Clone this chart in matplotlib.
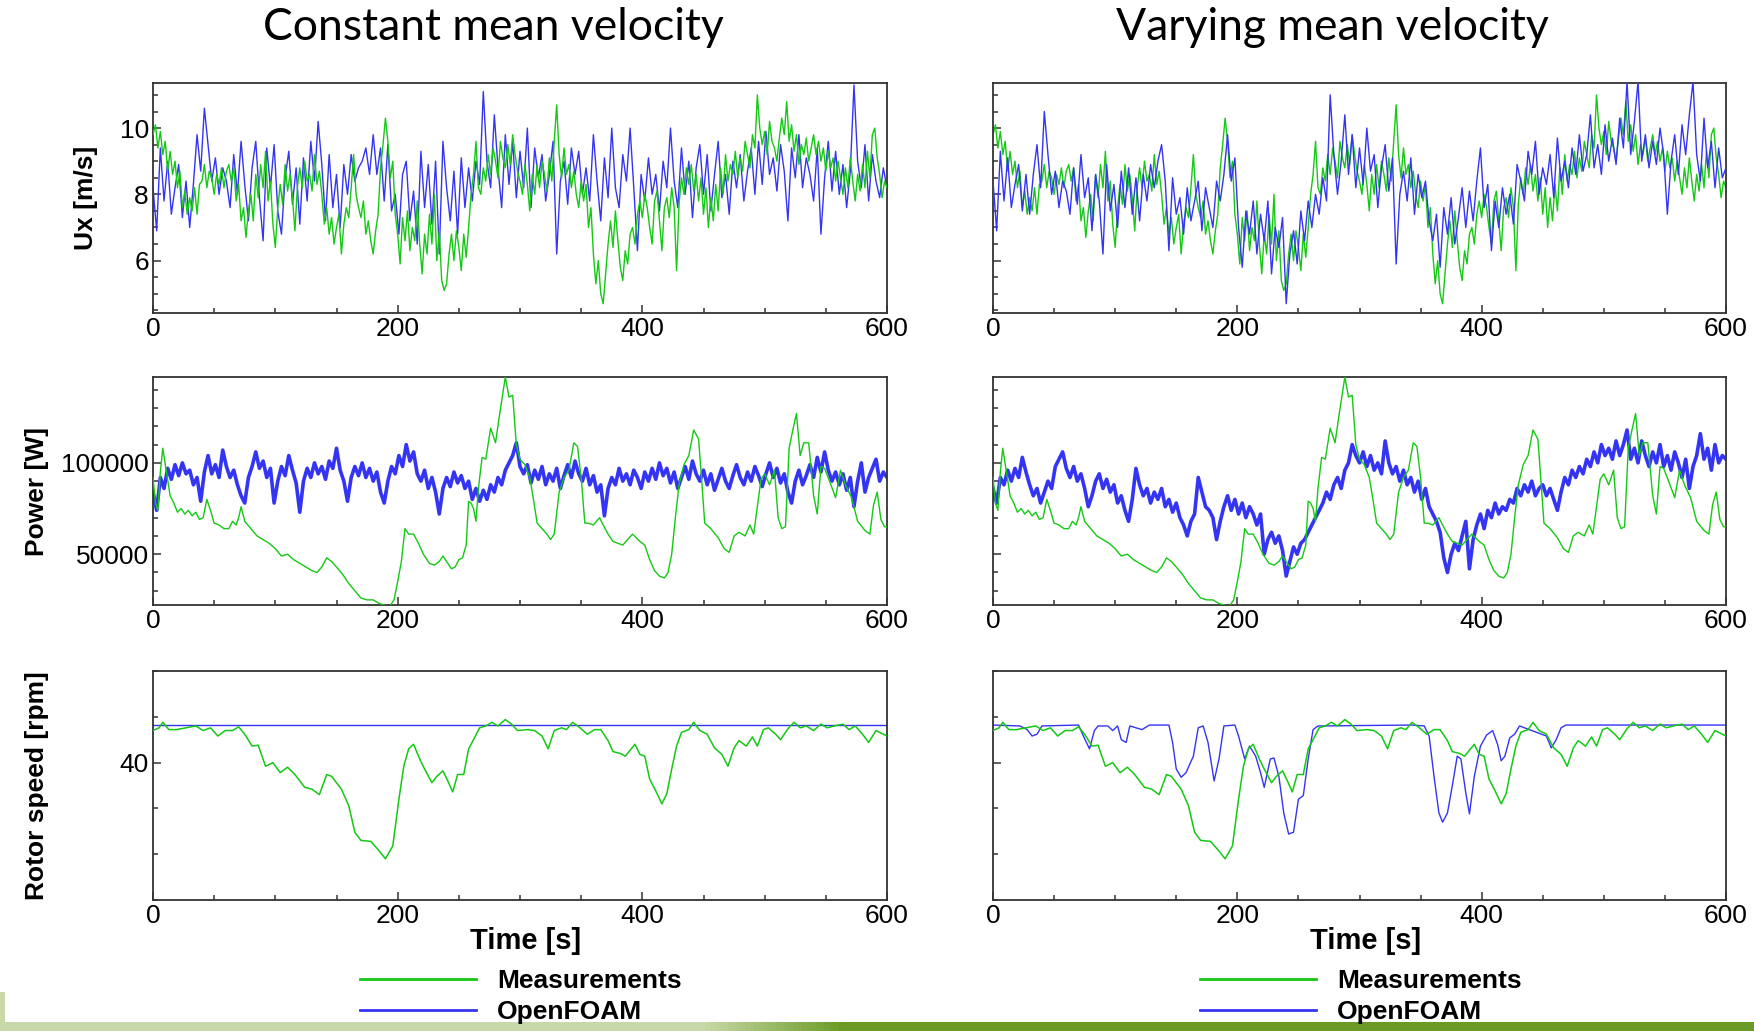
import numpy as np
import matplotlib.pyplot as plt
from matplotlib.ticker import MultipleLocator

# ---- data ----
t_ux_meas = np.arange(0, 601, 2)
ux_meas = [
    9.8, 10.1, 9.4, 9.9, 9.2, 9.6, 8.7, 9.3, 8.6, 9.0,
    8.2, 8.7, 7.6, 8.1, 7.4, 7.9, 7.5, 8.2, 7.4, 8.3,
    8.4, 8.9, 8.2, 8.7, 8.5, 8.0, 8.6, 8.3, 8.8, 8.2,
    8.7, 8.9, 8.4, 8.8, 7.8, 8.3, 7.2, 7.6, 6.7, 7.5,
    8.0, 7.2, 8.6, 7.9, 8.9, 8.2, 9.3, 7.8, 8.4, 7.1,
    6.4, 7.6, 8.3, 7.7, 8.9, 8.1, 8.6, 7.9, 6.9, 8.2,
    8.8, 8.2, 9.0, 8.4, 8.6, 8.1, 9.2, 8.3, 8.7, 8.0,
    7.1, 7.6, 6.8, 7.3, 6.5, 7.0, 7.4, 6.2, 7.1, 7.6,
    7.3, 8.2, 9.2, 8.0, 7.6, 7.3, 7.8, 6.8, 7.2, 6.6,
    6.2, 6.9, 7.4, 8.8, 9.5, 10.3, 9.6, 8.5, 9.0, 7.4,
    6.8, 5.9, 7.3, 6.6, 7.5, 6.3, 7.0, 6.6, 7.8, 6.5,
    5.6, 6.8, 6.2, 7.4, 6.5, 8.0, 6.0, 6.9, 5.4, 5.1,
    5.3, 6.2, 6.8, 6.0, 6.9, 6.4, 5.7, 6.8, 6.1, 7.0,
    8.0, 8.6, 9.6, 8.2, 8.0, 8.8, 8.4, 9.2, 8.6, 9.4,
    9.0, 8.5, 9.6, 9.1, 8.8, 9.5, 8.9, 9.8, 9.2, 8.7,
    8.4, 8.0, 8.9, 8.3, 7.5, 8.6, 8.0, 8.9, 8.2, 9.0,
    8.6, 8.1, 9.1, 8.4, 9.6, 10.7, 9.2, 8.5, 9.4, 8.6,
    8.9, 8.2, 8.7, 8.0, 7.6, 8.4, 7.8, 8.3, 7.0, 7.6,
    6.2, 5.3, 6.0, 5.0, 4.7, 5.6, 6.5, 7.2, 6.4, 7.5,
    6.6, 5.8, 5.4, 6.3, 5.9, 6.8, 7.0, 6.5, 7.4, 7.8,
    7.3, 8.0, 7.6, 7.0, 6.5, 7.8, 8.1, 7.2, 6.3, 7.6,
    7.9, 7.3, 8.2, 7.6, 5.7, 7.7, 8.5, 8.0, 8.8, 8.3,
    8.9, 8.1, 8.6, 7.8, 8.5, 7.4, 8.2, 7.0, 7.9, 7.2,
    8.3, 7.5, 8.8, 8.0, 9.2, 8.4, 8.9, 8.6, 9.3, 8.5,
    9.1, 8.7, 9.6, 9.2, 8.8, 9.8, 9.4, 11.0, 10.0, 9.5,
    9.9, 9.2, 10.2, 9.6, 9.4, 9.0, 9.7, 10.3, 9.8, 10.8,
    9.6, 10.1, 9.3, 9.8, 8.9, 9.5, 9.2, 9.7, 9.0, 9.4,
    9.8, 9.2, 9.6, 9.0, 9.4, 8.7, 9.3, 8.8, 9.1, 8.4,
    9.0, 8.5, 8.0, 8.8, 8.2, 9.1, 8.4, 7.8, 8.6, 8.1,
    8.9, 8.2, 9.3, 8.5, 9.8, 10.0, 9.1, 8.6, 7.9, 8.4,
    8.2,
]

t_sim = np.arange(0, 601, 3)
ux_sim_const = [
    8.2, 6.9, 9.4, 7.8, 9.0, 7.4, 8.2, 8.9, 7.3, 8.4,
    7.0, 8.3, 9.8, 8.7, 10.6, 9.5, 8.4, 9.1, 8.0, 8.8,
    8.4, 7.6, 9.2, 8.0, 9.6, 8.3, 7.2, 8.8, 9.6, 7.9,
    6.6, 9.4, 8.2, 9.5, 7.5, 6.8, 8.5, 9.3, 7.7, 8.8,
    7.1, 9.1, 7.8, 9.6, 8.4, 10.2, 8.9, 7.2, 9.2, 7.6,
    8.6, 7.0, 8.9, 8.0, 9.2, 8.4, 8.8, 9.0, 9.4, 8.6,
    9.8, 8.6, 9.4, 7.8, 9.5, 7.5, 8.0, 6.8, 8.6, 9.0,
    7.2, 8.1, 6.5, 9.3, 7.6, 8.9, 7.1, 9.0, 6.2, 9.6,
    8.2, 7.2, 8.7, 6.8, 9.1, 7.6, 8.8, 7.8, 9.0, 8.3,
    11.1, 9.0, 8.2, 10.4, 8.8, 7.6, 9.8, 8.3, 9.6, 7.9,
    9.3, 8.2, 10.0, 7.6, 9.4, 8.5, 9.2, 7.8, 8.6, 9.6,
    6.2, 8.4, 9.0, 7.7, 9.4, 8.6, 9.3, 8.0, 8.8, 7.8,
    9.8, 8.4, 7.2, 9.1, 7.9, 10.0, 8.2, 7.6, 9.2, 8.4,
    10.0, 8.2, 6.3, 8.6, 7.8, 9.1, 8.0, 8.6, 7.5, 9.0,
    8.2, 10.0, 8.4, 7.6, 9.4, 8.0, 9.0, 7.3, 8.8, 9.5,
    8.0, 9.2, 7.5, 8.6, 9.6, 7.9, 8.6, 7.4, 9.0, 8.2,
    9.2, 7.8, 8.7, 9.4, 8.0, 9.6, 8.3, 9.9, 8.6, 9.1,
    8.1, 9.5, 8.7, 7.2, 9.4, 8.5, 9.8, 8.2, 9.1, 8.6,
    7.8, 9.4, 6.8, 8.5, 9.6, 8.1, 9.3, 8.0, 8.9, 7.6,
    8.7, 11.3, 9.0, 8.2, 9.5, 7.8, 9.2, 8.4, 7.9, 8.8,
    8.2,
]
ux_sim_vary = [
    8.4, 6.9, 9.3, 7.8, 9.1, 7.6, 8.3, 8.9, 7.5, 8.6,
    7.4, 8.6, 9.5, 8.2, 10.5, 9.2, 8.0, 8.7, 7.6, 8.4,
    8.1, 7.4, 8.8, 7.7, 9.2, 7.9, 8.5, 6.9, 8.6, 7.8,
    6.2, 8.9, 7.5, 8.3, 7.0, 8.7, 7.6, 8.8, 7.4, 8.5,
    7.2, 8.6, 7.8, 8.9, 8.2, 9.0, 9.5, 8.4, 6.3, 8.5,
    7.4, 7.9, 6.8, 8.2, 7.2, 7.8, 8.4, 6.9, 8.2, 7.6,
    7.0, 8.4, 7.8, 8.6, 9.8, 8.4, 9.1, 7.0, 5.8, 7.5,
    6.8, 7.8, 6.2, 7.4, 6.6, 7.8, 5.6, 7.0, 6.4, 7.3,
    4.7, 6.2, 6.9, 5.9, 7.5, 6.6, 7.8, 7.0, 8.0, 7.4,
    8.5, 7.8, 11.0, 9.2, 8.0, 9.0, 10.4, 8.6, 9.8, 8.2,
    9.4, 8.3, 10.0, 8.7, 9.2, 7.6, 8.8, 9.5, 8.1, 9.1,
    5.9, 8.0, 8.7, 7.8, 9.1, 7.4, 8.6, 7.9, 8.4, 7.2,
    6.6, 7.4, 5.8, 7.6, 6.8, 7.9, 6.5, 7.3, 8.2, 7.0,
    8.1, 7.2, 8.4, 9.4, 7.6, 8.3, 6.3, 7.8, 7.0, 8.2,
    7.4, 8.0, 7.1, 8.9, 8.4, 7.8, 9.3, 8.6, 9.6, 8.0,
    8.8, 8.3, 9.2, 7.9, 9.7, 8.4, 9.0, 8.2, 9.4, 8.6,
    9.8, 8.7, 9.2, 10.4, 8.8, 9.5, 8.6, 10.1, 9.0, 9.7,
    8.9, 10.3, 9.4, 11.4, 9.2, 10.2, 11.4, 9.0, 9.8, 8.8,
    9.6, 8.9, 10.0, 9.2, 7.4, 9.0, 9.8, 8.6, 10.1, 9.2,
    10.4, 11.4, 9.2, 8.4, 10.3, 8.8, 9.6, 8.2, 9.4, 8.5,
    8.8,
]

# power, kW scale in the lists, converted to W below
t_pow_meas = [
    0, 2, 4, 6, 8, 11, 14, 17, 20, 23, 26, 29, 32, 35, 38, 41, 44, 47, 50, 54,
    58, 62, 65, 68, 70, 72, 75, 80, 85, 90, 95, 100, 105, 110, 115, 120, 125, 130, 134, 138,
    142, 146, 150, 155, 160, 165, 170, 175, 180, 185, 190, 193, 197, 200, 203, 206, 209, 213, 217, 221,
    226, 230, 234, 237, 240, 244, 247, 250, 253, 256, 258, 260, 262, 264, 266, 269, 272, 276, 280, 283,
    286, 288, 291, 294, 297, 300, 304, 308, 311, 314, 318, 322, 325, 328, 332, 336, 340, 344, 347, 350,
    353, 356, 360, 365, 368, 372, 376, 380, 384, 388, 392, 395, 398, 402, 406, 410, 414, 418, 421, 424,
    427, 430, 434, 438, 442, 446, 448, 451, 456, 462, 467, 471, 475, 479, 484, 488, 491, 494, 497, 500,
    504, 508, 511, 514, 517, 520, 523, 526, 529, 532, 536, 540, 543, 546, 549, 553, 558, 562, 566, 571,
    576, 582, 586, 589, 592, 595, 598, 600,
]
pow_meas_k = [
    92, 78, 74, 95, 108, 95, 82, 78, 73, 75, 72, 74, 71, 73, 69, 70, 80, 74, 67, 66,
    64, 64, 68, 66, 70, 76, 68, 64, 60, 58, 56, 53, 49, 50, 47, 45, 43, 41, 40, 43,
    48, 46, 43, 39, 34, 30, 26, 25, 25, 23, 22, 21, 25, 35, 46, 64, 61, 61, 56, 50,
    45, 44, 46, 49, 46, 42, 43, 47, 48, 55, 79, 78, 75, 68, 86, 103, 102, 119, 111, 125,
    138, 147, 136, 137, 110, 102, 99, 92, 80, 67, 64, 61, 58, 61, 84, 92, 96, 111, 109, 92,
    67, 67, 66, 70, 66, 61, 57, 56, 55, 58, 61, 59, 57, 55, 47, 41, 38, 37, 40, 50,
    70, 88, 99, 104, 118, 113, 95, 67, 64, 59, 53, 51, 60, 62, 60, 66, 61, 76, 91, 94,
    88, 96, 70, 64, 65, 108, 118, 127, 104, 111, 111, 82, 72, 98, 97, 90, 81, 96, 88, 81,
    68, 63, 61, 77, 84, 69, 65, 65,
]
pow_sim_const_k = [
    84, 74, 92, 86, 97, 91, 99, 93, 100, 94,
    96, 88, 92, 79, 95, 104, 94, 99, 92, 107,
    98, 92, 96, 88, 82, 78, 92, 98, 106, 97,
    101, 92, 97, 78, 90, 98, 93, 104, 96, 89,
    73, 90, 97, 92, 100, 94, 98, 91, 101, 97,
    108, 96, 90, 79, 92, 98, 93, 100, 92, 97,
    90, 95, 84, 78, 90, 98, 94, 104, 98, 110,
    101, 106, 94, 90, 96, 86, 92, 84, 72, 86,
    92, 87, 95, 89, 93, 86, 90, 80, 86, 79,
    85, 80, 88, 84, 92, 88, 96, 100, 104, 111,
    98, 94, 99, 89, 96, 91, 98, 88, 94, 90,
    97, 86, 93, 99, 92, 101, 94, 90, 97, 88,
    93, 84, 88, 71, 86, 92, 88, 97, 90, 94,
    88, 96, 92, 86, 95, 90, 97, 91, 100, 93,
    97, 89, 95, 86, 92, 98, 91, 101, 94, 90,
    96, 88, 94, 85, 91, 97, 90, 86, 93, 99,
    92, 88, 95, 90, 98, 93, 87, 94, 100, 92,
    97, 89, 94, 84, 78, 90, 96, 88, 93, 99,
    92, 103, 95, 106, 96, 90, 95, 88, 94, 85,
    92, 76, 90, 100, 84, 92, 97, 102, 90, 95,
    92,
]
pow_sim_vary_k = [
    86, 78, 92, 88, 96, 90, 97, 92, 103, 95,
    88, 82, 86, 78, 84, 90, 86, 98, 102, 106,
    97, 92, 98, 90, 94, 86, 76, 82, 90, 94,
    86, 91, 84, 88, 78, 82, 74, 68, 80, 97,
    88, 82, 86, 78, 84, 80, 86, 76, 80, 73,
    78, 70, 66, 60, 68, 72, 92, 84, 76, 74,
    70, 58, 68, 76, 82, 74, 80, 72, 78, 70,
    76, 72, 66, 72, 50, 58, 62, 56, 60, 52,
    38, 46, 54, 50, 56, 58, 62, 66, 70, 74,
    78, 84, 80, 88, 92, 86, 96, 100, 110, 104,
    100, 106, 98, 104, 96, 100, 94, 112, 100, 94,
    98, 90, 96, 88, 92, 84, 90, 80, 86, 76,
    72, 68, 62, 48, 40, 50, 56, 52, 60, 68,
    42, 58, 66, 72, 64, 74, 70, 78, 72, 76,
    74, 80, 78, 86, 82, 88, 84, 90, 82, 86,
    88, 82, 86, 80, 74, 84, 92, 88, 96, 92,
    98, 94, 102, 98, 106, 100, 110, 104, 108, 102,
    112, 104, 110, 118, 102, 108, 100, 112, 104, 98,
    106, 100, 110, 98, 104, 96, 106, 100, 92, 102,
    86, 98, 104, 116, 102, 108, 96, 110, 100, 104,
    102,
]

t_rpm_meas = [
    0, 5, 8, 13, 19, 27, 35, 41, 47, 53, 59, 65, 70, 75, 81, 86, 92, 98, 104, 110,
    116, 124, 130, 136, 142, 146, 154, 160, 165, 170, 178, 184, 190, 196, 201, 205, 209, 213, 218, 222,
    228, 232, 237, 241, 245, 249, 254, 258, 262, 267, 272, 277, 282, 288, 293, 298, 306, 312, 318, 323,
    328, 334, 338, 343, 349, 355, 361, 366, 372, 376, 382, 386, 394, 398, 402, 406, 411, 416, 420, 424,
    428, 432, 438, 442, 447, 453, 459, 465, 470, 475, 479, 485, 490, 494, 499, 503, 509, 513, 519, 524,
    529, 534, 540, 546, 551, 557, 564, 569, 574, 580, 585, 591, 597, 600,
]
rpm_meas = [
    43.5, 43.8, 44.4, 43.6, 43.6, 43.8, 44.0, 43.5, 43.8, 42.9, 43.5, 43.5, 43.9, 43.1, 41.8, 41.9, 39.6, 40.0, 38.9, 39.5,
    38.7, 37.3, 37.1, 36.5, 38.7, 38.5, 37.1, 35.3, 32.4, 31.5, 31.4, 30.5, 29.5, 30.9, 36.0, 39.6, 41.5, 42.0, 40.4, 39.3,
    37.8, 38.5, 39.1, 38.0, 36.8, 38.7, 38.7, 41.5, 42.5, 43.8, 44.0, 44.4, 44.0, 44.7, 44.2, 43.5, 43.6, 43.5, 42.9, 41.5,
    43.5, 43.8, 43.6, 44.4, 43.8, 43.1, 43.6, 43.6, 42.4, 41.2, 41.0, 40.7, 42.0, 40.9, 40.7, 38.2, 36.9, 35.5, 36.6, 39.3,
    41.8, 43.3, 43.6, 44.4, 43.5, 43.1, 41.6, 40.9, 39.6, 41.6, 42.4, 41.8, 42.8, 41.8, 43.6, 43.8, 43.1, 42.5, 43.7, 44.4,
    43.8, 44.0, 43.5, 44.2, 43.8, 44.0, 44.2, 43.6, 44.0, 43.1, 42.2, 43.5, 43.1, 42.9,
]
t_rpm_const = [0, 600]
rpm_const = [44.1, 44.1]
t_rpm_vary = [
    0, 22, 28, 32, 36, 40, 70, 74, 79, 83, 86, 94, 98, 102, 105, 109, 112, 122, 128, 144,
    147, 150, 154, 158, 164, 168, 172, 176, 181, 185, 189, 198, 201, 206, 210, 215, 219, 222, 227, 230,
    234, 238, 242, 246, 250, 254, 258, 262, 266, 343, 353, 357, 361, 365, 368, 372, 376, 380, 383, 387,
    390, 394, 399, 404, 409, 413, 416, 419, 423, 427, 431, 453, 457, 461, 465, 469, 600,
]
rpm_vary = [
    44.1, 44.0, 43.6, 42.9, 43.1, 44.0, 44.1, 42.9, 41.5, 43.5, 44.0, 44.0, 43.5, 44.0, 42.5, 42.2, 44.0, 43.6, 44.1, 44.1,
    42.2, 39.3, 38.4, 38.9, 40.7, 43.8, 44.0, 42.2, 38.0, 40.4, 44.0, 44.1, 42.9, 40.4, 41.8, 40.7, 38.9, 37.3, 40.4, 40.5,
    38.5, 34.5, 32.2, 32.4, 36.0, 36.4, 40.4, 43.6, 44.0, 44.1, 44.0, 42.9, 38.5, 34.5, 33.5, 34.5, 37.5, 40.7, 40.4, 36.7,
    34.4, 38.5, 41.8, 43.0, 43.5, 42.0, 40.2, 40.7, 42.7, 43.1, 44.0, 42.9, 41.6, 42.5, 43.8, 44.1, 44.1,
]

titles = ['Constant mean velocity', 'Varying mean velocity']
row_labels = ['Ux [m/s]', 'Power [W]', 'Rotor speed [rpm]']
legend_labels = ['Measurements', 'OpenFOAM']

GREEN = '#14c814'
BLUE = '#3434f4'

pow_meas = np.array(pow_meas_k) * 1000
pow_sim = [np.array(pow_sim_const_k) * 1000, np.array(pow_sim_vary_k) * 1000]
ux_sim = [ux_sim_const, ux_sim_vary]
rpm_sim = [(t_rpm_const, rpm_const), (t_rpm_vary, rpm_vary)]

plt.rcParams['font.family'] = ['Liberation Sans', 'DejaVu Sans']

W, H = 1754, 1031
fig = plt.figure(figsize=(W / 100, H / 100), dpi=100)

col_x = [(153, 887), (993, 1726)]
row_y = [(83, 313), (377, 605), (671, 900)]
ylims = [(4.42, 11.36), (22200, 147000), (25, 50)]
ymajor = [2, 50000, 20]
yminor = [0.5, 10000, 5]
label_x = [86, 37, 37]

axes = {}
for c, (x0, x1) in enumerate(col_x):
    for r, (y0, y1) in enumerate(row_y):
        ax = fig.add_axes([x0 / W, 1 - y1 / H, (x1 - x0) / W, (y1 - y0) / H])
        axes[(r, c)] = ax
        ax.set_xlim(0, 600)
        ax.set_ylim(*ylims[r])
        ax.xaxis.set_major_locator(MultipleLocator(200))
        ax.xaxis.set_minor_locator(MultipleLocator(50))
        ax.yaxis.set_major_locator(MultipleLocator(ymajor[r]))
        ax.yaxis.set_minor_locator(MultipleLocator(yminor[r]))
        ax.tick_params(which='both', direction='in', labelsize=19, width=1.1,
                       top=False, right=False, pad=3, colors='#333333', labelcolor='black')
        ax.tick_params(which='major', length=6)
        ax.tick_params(which='minor', length=3.5)
        for s in ax.spines.values():
            s.set_linewidth(1.3)
            s.set_color('#333333')
        if c == 1:
            ax.tick_params(axis='y', labelleft=False)

        if r == 0:
            ax.plot(t_ux_meas, ux_meas, color=GREEN, lw=1.0, zorder=3 if c == 0 else 2)
            ax.plot(t_sim, ux_sim[c], color=BLUE, lw=1.0, zorder=2 if c == 0 else 3)
        elif r == 1:
            ax.plot(t_sim, pow_sim[c], color=BLUE, lw=2.6, zorder=2)
            ax.plot(t_pow_meas, pow_meas, color=GREEN, lw=1.0, zorder=3)
        else:
            ax.plot(rpm_sim[c][0], rpm_sim[c][1], color=BLUE, lw=1.0, zorder=2)
            ax.plot(t_rpm_meas, rpm_meas, color=GREEN, lw=1.1, zorder=3)

        if c == 0:
            fig.text(label_x[r] / W, 1 - (y0 + y1) / 2 / H, row_labels[r], rotation=90,
                     ha='center', va='center', fontsize=19, fontweight='bold')

    xc = (x0 + x1) / 2
    fig.text((xc - 27) / W, 1 - 27 / H, titles[c], ha='center', va='center',
             fontsize=32, family=['Lato', 'DejaVu Sans'])
    fig.text((xc + 6) / W, 1 - 941 / H, 'Time [s]', ha='center', va='center',
             fontsize=21, fontweight='bold')

# legends below each column
leg_x = [360, 1200]
for c in range(2):
    h = [plt.Line2D([], [], color=GREEN, lw=2), plt.Line2D([], [], color=BLUE, lw=2)]
    fig.legend(h, legend_labels, loc='upper left', bbox_to_anchor=(leg_x[c] / W, 1 - 969 / H),
               frameon=False, borderpad=0, borderaxespad=0, handlelength=4.4,
               handletextpad=0.8, labelspacing=0.28,
               prop={'weight': 'bold', 'size': 19})

# slide footer band
band = fig.add_axes([0, 0, 1, 9 / H])
grad = np.linspace(0, 1, 400)
light = np.array([0.79, 0.85, 0.66])
dark = np.array([0.42, 0.61, 0.15])
mix = np.clip((grad - 0.40) / 0.08, 0, 1)[:, None]
img = (light * (1 - mix) + dark * mix)[None, :, :]
band.imshow(img, aspect='auto', extent=(0, 1, 0, 1))
band.axis('off')
strip = fig.add_axes([0, 9 / H, 5 / W, 30 / H])
strip.set_facecolor(light)
strip.set_xticks([])
strip.set_yticks([])
for s in strip.spines.values():
    s.set_visible(False)

fig.savefig('out.png', dpi=100)
